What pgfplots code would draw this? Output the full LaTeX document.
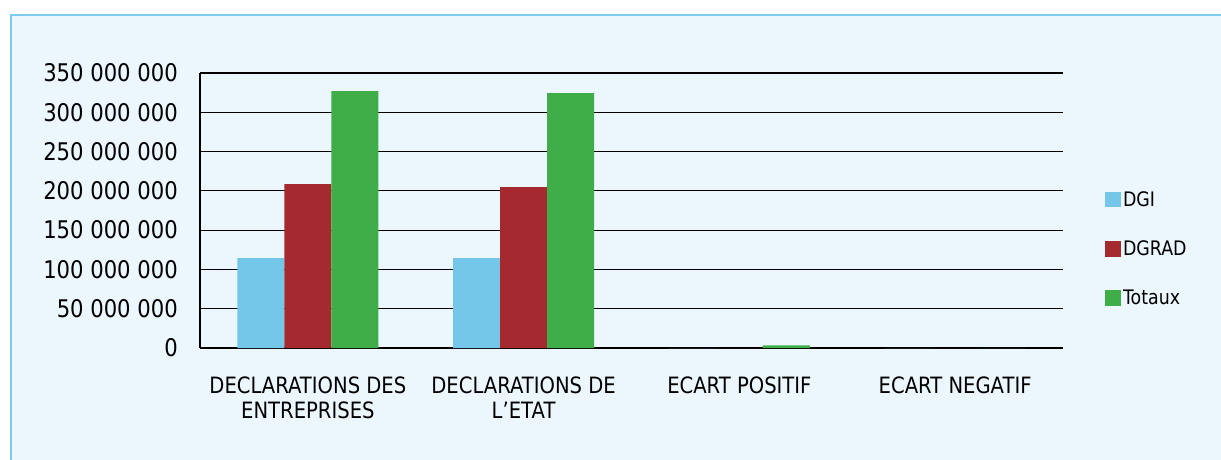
\documentclass[border=0pt]{standalone}
\usepackage{fontspec}
\setmainfont{DejaVu Sans}[FakeStretch=0.87]
\usepackage{pgfplots}
\pgfplotsset{compat=1.18}

\definecolor{bgcol}{RGB}{235,246,253}
\definecolor{framecol}{RGB}{125,204,238}
\definecolor{cdgi}{RGB}{117,199,234}
\definecolor{cdgrad}{RGB}{164,42,48}
\definecolor{ctot}{RGB}{64,174,72}

\begin{document}
\begin{tikzpicture}[x=1pt,y=1pt]
\useasboundingbox (0pt,0pt) rectangle (1221pt,459pt);
\clip (0pt,0pt) rectangle (1221pt,459pt);
\fill[white] (0pt,0pt) rectangle (1221pt,459pt);
\draw[framecol, line width=2.5pt, fill=bgcol] (11pt,-20pt) rectangle (1240pt,444pt);
\begin{axis}[
    at={(200pt,111pt)}, anchor=south west,
    scale only axis, width=863pt, height=275pt,
    ybar=0pt, bar width=47pt,
    xmin=-0.5, xmax=3.5, ymin=0, ymax=350000000,
    axis x line*=bottom, axis y line*=left,
    axis line style={black, line width=1.5pt, -},
    major tick length=0pt,
    xtick={0,1,2,3},
    xticklabels={{DECLARATIONS DES\\ENTREPRISES},{DECLARATIONS DE\\L’ETAT},{ECART POSITIF},{ECART NEGATIF}},
    xticklabel style={align=center, anchor=north, inner sep=0pt, yshift=-29pt, font=\fontsize{22.5}{25}\selectfont},
    ytick={0,50000000,100000000,150000000,200000000,250000000,300000000,350000000},
    yticklabels={0,{50 000 000},{100 000 000},{150 000 000},{200 000 000},{250 000 000},{300 000 000},{350 000 000}},
    scaled y ticks=false,
    yticklabel style={anchor=east, inner sep=0pt, xshift=-22pt, font=\fontsize{24.3}{26}\selectfont},
    ymajorgrids, major grid style={black, line width=1.2pt},
    legend style={at={(1.045,0.36)}, anchor=west, draw=none, fill=none,
        font=\fontsize{20}{22}\selectfont, row sep=29pt},
    legend cell align=left,
    legend image code/.code={\fill[#1] (0pt,-7.5pt) rectangle (16pt,8pt);},
]
\addplot[fill=cdgi, draw=none] coordinates {(0,114500000) (1,114500000) (2,0) (3,0)};
\addlegendentry{DGI}
\addplot[fill=cdgrad, draw=none] coordinates {(0,208700000) (1,204800000) (2,0) (3,0)};
\addlegendentry{DGRAD}
\addplot[fill=ctot, draw=none] coordinates {(0,327000000) (1,324400000) (2,3500000) (3,0)};
\addlegendentry{Totaux}
\end{axis}
\end{tikzpicture}
\end{document}
